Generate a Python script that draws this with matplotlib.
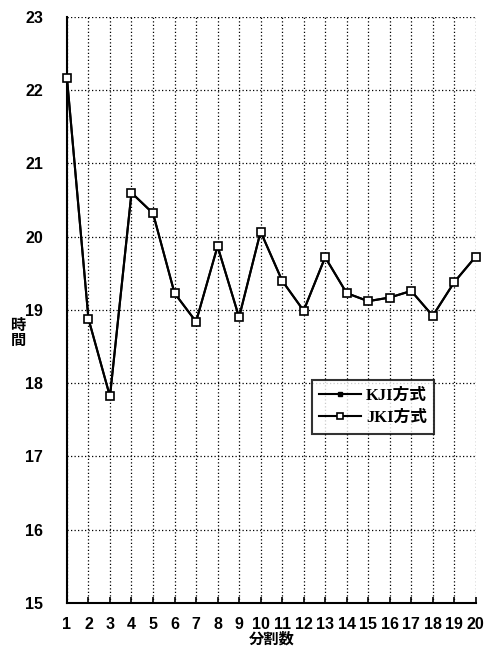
import numpy as np
import matplotlib.pyplot as plt

plt.rcParams['font.family'] = ['Liberation Sans', 'Noto Sans CJK JP']

divisions = list(range(1, 21))
# 実行時間（KJI方式・JKI方式）
kji_time = [22.17, 18.88, 17.82, 20.60, 20.32, 19.23, 18.84, 19.87, 18.90, 20.07,
            19.40, 18.99, 19.72, 19.23, 19.12, 19.17, 19.26, 18.92, 19.38, 19.73]
jki_time = [22.17, 18.88, 17.82, 20.60, 20.32, 19.23, 18.84, 19.87, 18.90, 20.07,
            19.40, 18.99, 19.72, 19.23, 19.12, 19.17, 19.26, 18.92, 19.38, 19.73]

fig = plt.figure(figsize=(4.85, 6.53), dpi=100)
ax = fig.add_axes([0.138, 0.0766, 0.843, 0.8974])

ax.plot(divisions, kji_time, color='black', lw=1.5, marker='s', ms=3,
        mfc='black', mec='black', label='KJI方式', clip_on=False, zorder=3)
ax.plot(divisions, jki_time, color='black', lw=1.5, marker='s', ms=5.5,
        mfc='white', mec='black', mew=1.2, label='JKI方式', clip_on=False,
        zorder=4)

ax.set_xlim(1, 20)
ax.set_ylim(15, 23)
ax.set_xticks(divisions)
ax.set_yticks(range(15, 24))
ax.grid(True, color='black', linestyle=(0, (1, 1.8)), lw=0.9)
ax.set_axisbelow(True)

for s in ['top', 'right']:
    ax.spines[s].set_visible(False)
for s in ['left', 'bottom']:
    ax.spines[s].set_linewidth(1.5)

ax.tick_params(axis='x', direction='in', length=4, width=1.2, pad=10,
               labelsize=11.5)
ax.tick_params(axis='y', direction='in', length=0, pad=17, labelsize=11.5)
for lbl in ax.get_xticklabels() + ax.get_yticklabels():
    lbl.set_fontweight('bold')

ax.set_xlabel('分割数', fontsize=11, fontweight='bold', labelpad=0)
fig.text(0.037, 0.49, '時\n間', fontsize=11, fontweight='bold',
         ha='center', va='center', linespacing=1.1)

leg = ax.legend(loc='upper left', bbox_to_anchor=(0.599, 0.3805),
                frameon=True, fancybox=False, edgecolor='black',
                handlelength=2.5, borderpad=0.45, markerscale=0.8,
                labelspacing=0.4, handletextpad=0.3, borderaxespad=0,
                prop={'family': ['Liberation Serif', 'Noto Sans CJK JP'],
                      'size': 12, 'weight': 'bold'})
leg.get_frame().set_linewidth(1.5)

fig.savefig('out.png', dpi=100)
